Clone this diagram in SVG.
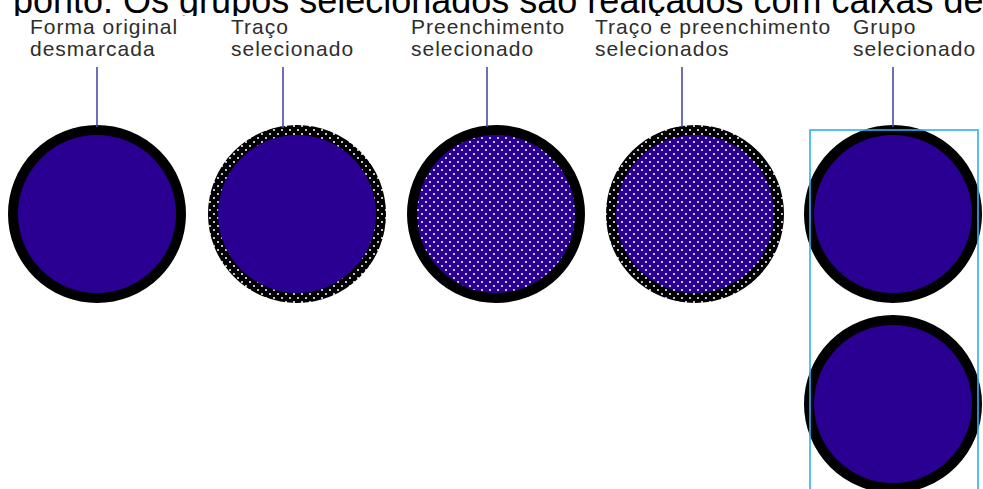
<svg xmlns="http://www.w3.org/2000/svg" width="983" height="489" viewBox="0 0 983 489">
<style>
.hdr{font-family:"Liberation Sans",Arial,sans-serif;font-size:36px;fill:#000}
.lbl{font-family:"Liberation Sans",Arial,sans-serif;font-size:21px;letter-spacing:1px;fill:#2e2e2e}
.base{fill:#2a0092;stroke:#000;stroke-width:10}
.lead{stroke:#4a4ab0;stroke-width:1.6;fill:none}
.sel{fill:none;stroke:#2bb0ee;stroke-width:1.6}
</style>
<defs>
<clipPath id="hclip"><rect x="0" y="0" width="983" height="16"/></clipPath>
<pattern id="fillDots" width="8" height="8" patternUnits="userSpaceOnUse">
<rect width="8" height="8" fill="#2a0092"/>
<circle cx="2" cy="2" r="1" fill="#fff"/>
<circle cx="6" cy="6" r="1" fill="#fff"/>
</pattern>
<pattern id="strokeDots" width="8" height="8" patternUnits="userSpaceOnUse">
<rect width="8" height="8" fill="#000"/>
<circle cx="2" cy="2" r="1" fill="#fff"/>
<circle cx="6" cy="6" r="1" fill="#fff"/>
</pattern>
</defs>
<rect width="983" height="489" fill="#fff"/>
<text class="hdr" x="13" y="13" clip-path="url(#hclip)">ponto. Os grupos selecionados são realçados com caixas de</text>

<g id="n1">
<text class="lbl" x="30" y="34">Forma original</text>
<text class="lbl" x="30" y="56">desmarcada</text>
<circle class="base" cx="97" cy="214" r="84"/>
</g>
<g id="n2">
<text class="lbl" x="231" y="34">Traço</text>
<text class="lbl" x="231" y="56">selecionado</text>
<circle class="base" cx="297" cy="214" r="84" style="stroke:url(#strokeDots)"/>
</g>
<g id="n3">
<text class="lbl" x="411" y="34">Preenchimento</text>
<text class="lbl" x="411" y="56">selecionado</text>
<circle class="base" cx="496" cy="214" r="84" style="fill:url(#fillDots)"/>
</g>
<g id="n4">
<text class="lbl" x="595" y="34">Traço e preenchimento</text>
<text class="lbl" x="595" y="56">selecionados</text>
<circle class="base" cx="695" cy="214" r="84" style="fill:url(#fillDots);stroke:url(#strokeDots)"/>
</g>
<g id="n5">
<text class="lbl" x="853" y="34">Grupo</text>
<text class="lbl" x="853" y="56">selecionado</text>
<circle class="base" cx="893" cy="214" r="84"/>
<circle class="base" cx="893" cy="404" r="84"/>
<rect class="sel" x="810" y="130" width="168" height="380"/>
</g>
<g id="connectors">
<line class="lead" x1="97" y1="67" x2="97" y2="127"/>
<line class="lead" x1="283" y1="67" x2="283" y2="128"/>
<line class="lead" x1="487" y1="67" x2="487" y2="127"/>
<line class="lead" x1="682" y1="67" x2="682" y2="127"/>
<line class="lead" x1="893" y1="67" x2="893" y2="127"/>
</g>
</svg>
